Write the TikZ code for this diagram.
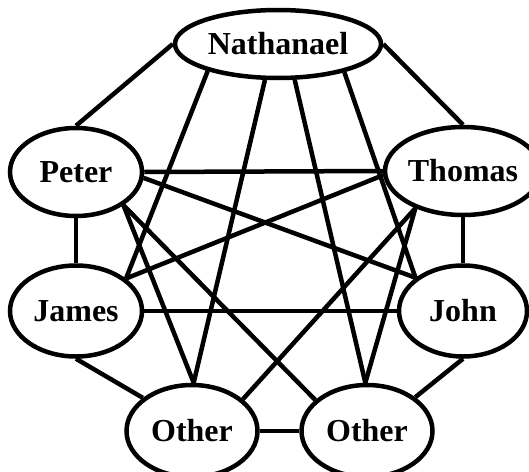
\documentclass[tikz,border=0pt]{standalone}
\usepackage{fontspec}
\setmainfont{Liberation Serif}
\usetikzlibrary{shapes.geometric}
\begin{document}
\begin{tikzpicture}[x=1pt,y=-1pt,
  person/.style={ellipse, draw, line width=4.5pt, inner sep=0pt,
    font=\fontsize{32}{32}\selectfont\bfseries, text height=21pt, text depth=0pt},
  link/.style={line width=4.5pt}]
\useasboundingbox (0,0) rectangle (529,471);
\node[person, minimum width=206pt, minimum height=68pt] (nat) at (278,44) {Nathanael};
\node[person, minimum width=132pt, minimum height=88pt] (pet) at (76,172) {Peter};
\node[person, minimum width=128pt, minimum height=88pt] (tho) at (463,171) {Thomas};
\node[person, minimum width=132pt, minimum height=91pt] (jam) at (76,311) {James};
\node[person, minimum width=128pt, minimum height=91pt] (joh) at (463,311) {John};
\node[person, minimum width=131pt, minimum height=92pt] (oa) at (192,431) {Other};
\node[person, minimum width=131pt, minimum height=92pt] (ob) at (367,431) {Other};
\draw[link] (nat.180) -- (pet.90);
\draw[link] (nat.0) -- (tho.90);
\draw[link] (nat.201) -- (jam.33);
\draw[link] (nat.250) -- (oa.88);
\draw[link] (nat.295) -- (ob.92);
\draw[link] (nat.337) -- (joh.145);
\draw[link] (pet.270) -- (jam.90);
\draw[link] (pet.0) -- (tho.180);
\draw[link] (pet.355) -- (joh.145);
\draw[link] (pet.325) -- (oa.88);
\draw[link] (pet.325) -- (ob.149);
\draw[link] (tho.270) -- (joh.90);
\draw[link] (tho.183) -- (jam.33);
\draw[link] (tho.218) -- (oa.32);
\draw[link] (tho.218) -- (ob.92);
\draw[link] (jam.0) -- (joh.180);
\draw[link] (jam.270) -- (oa.146);
\draw[link] (joh.270) -- (ob.35);
\draw[link] (oa.0) -- (ob.180);
\end{tikzpicture}
\end{document}
